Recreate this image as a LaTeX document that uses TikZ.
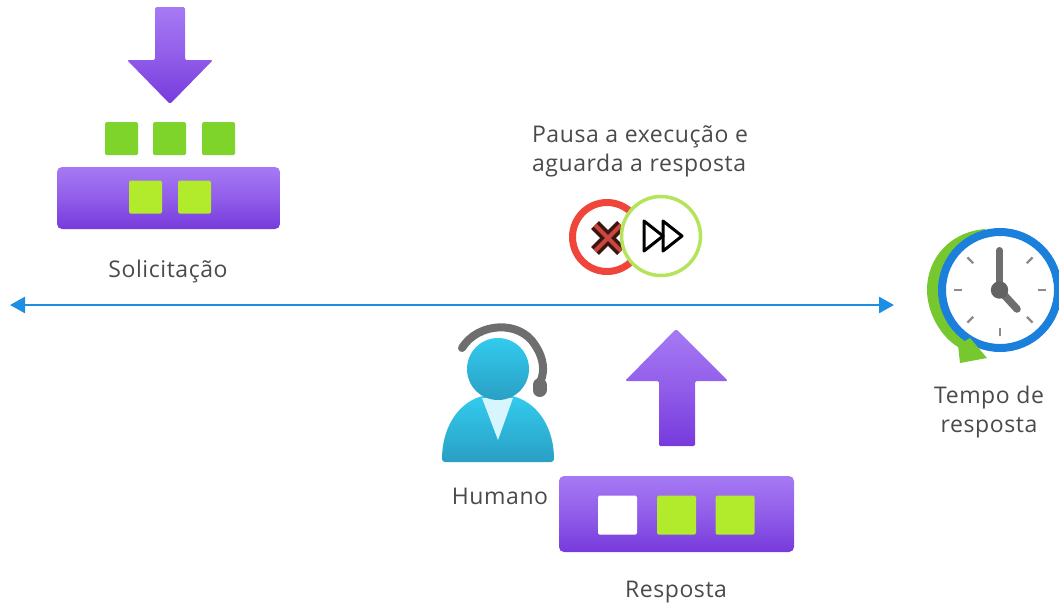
\documentclass[tikz,border=0pt]{standalone}
\usepackage{fontspec}
\setmainfont[LetterSpace=2.5]{Open Sans}
\usetikzlibrary{arrows.meta,calc}
\definecolor{purpleTop}{HTML}{A67AF4}
\definecolor{purpleBot}{HTML}{773ADC}
\definecolor{greenSq}{HTML}{7FD42C}
\definecolor{limeSq}{HTML}{B2EA2C}
\definecolor{lineBlue}{HTML}{1C8FE3}
\definecolor{ringBlue}{HTML}{1B7FDC}
\definecolor{txt}{HTML}{4A4A4A}
\definecolor{handGray}{HTML}{6E6E6E}
\definecolor{arcGreen}{HTML}{76C82E}
\definecolor{redRing}{HTML}{F0453A}
\definecolor{ffRing}{HTML}{B4E45A}
\definecolor{skyTop}{HTML}{32CBEE}
\definecolor{skyBot}{HTML}{2A9FC4}
\definecolor{xCore}{HTML}{C9473C}
\definecolor{xEdge}{HTML}{3A1512}
\tikzset{
  x=1pt,y=-1pt,
  label text/.style={font=\fontsize{23}{29}\selectfont,text=txt,inner sep=0pt,align=center},
  grad/.style={top color=purpleTop,bottom color=purpleBot,middle color=purpleTop!55!purpleBot,draw=none},
  sq/.style={rounded corners=1.5pt,draw=none,inner sep=0pt,outer sep=0pt},
  barbox/.style={grad,rounded corners=5pt},
  tick/.style={draw=handGray!80,line width=2.4pt},
}
\begin{document}
\begin{tikzpicture}
\useasboundingbox (0,0) rectangle (1059,606);
% request group
\shade[grad,rounded corners=1.5pt] (155,7) -- (185,7) -- (185,60) -- (213,60) -- (170,104) -- (127,60) -- (155,60) -- cycle;
\node[sq,fill=greenSq,minimum size=33pt] (g1) at (121.5,138.5) {};
\node[sq,fill=greenSq,minimum size=33pt] (g2) at (169.5,138.5) {};
\node[sq,fill=greenSq,minimum size=33pt] (g3) at (218.5,138.5) {};
\shade[barbox] (57,167) rectangle (280,229);
\node[sq,fill=limeSq,minimum size=33pt] (l1) at (145.5,197) {};
\node[sq,fill=limeSq,minimum size=33pt] (l2) at (194.5,197) {};
\node[label text] (solic) at (168,272) {Solicitação};
% timeline
\coordinate (tl) at (10,305);
\coordinate (tr) at (894,305);
\draw[lineBlue,line width=2.6pt,{Triangle[length=15pt,width=16pt]}-{Triangle[length=15pt,width=16pt]}] (tl) -- (tr);
% pause
\node[label text,align=left] (pausa) at (640,151) {Pausa a execução e\\aguarda a resposta};
\node[circle,draw=redRing,line width=7pt,fill=white,minimum size=69pt,inner sep=0pt] (stop) at (607,237) {};
\draw[xEdge,line width=11pt] (595,225) -- (621,251) (621,225) -- (595,251);
\draw[xCore,line width=4pt] (595,225) -- (621,251) (621,225) -- (595,251);
\node[circle,draw=ffRing,line width=3.5pt,fill=white,minimum size=79pt,inner sep=0pt] (play) at (661,236) {};
\draw[black,line width=3pt,line join=round] (644,221) -- (644,251) -- (663,236) -- cycle;
\draw[black,line width=3pt,line join=round] (663,221) -- (663,251) -- (682,236) -- cycle;
% clock
\fill[arcGreen] (985,229) .. controls (950,232) and (927,258) .. (927,290) .. controls (927,312) and (940,336) .. (958,347) -- (985,340) -- (985,300) -- cycle;
\node[circle,draw=ringBlue,line width=8pt,fill=white,minimum size=116pt,inner sep=0pt] (clock) at (1000,290) {};
\fill[arcGreen] (958,345) -- (960,363) -- (987,358) -- (970,338) -- cycle;
\foreach \a in {0,45,135,180,225,270,315}{
  \draw[tick] ($(clock.center)+(\a:38pt)$) -- ($(clock.center)+(\a:46pt)$);
}
\draw[handGray,line width=7pt,line cap=round] (999.5,290) -- (999.5,250.5);
\draw[handGray,line width=7.5pt,line cap=round] (999.5,290) -- (1017,309);
\fill[handGray!90!black] (999.5,290) circle (8.7pt);
\node[label text] (tempo) at (989,412) {Tempo de\\resposta};
% human
\draw[handGray,line width=8pt,line cap=round] (462,348) .. controls (478,322) and (520,320) .. (535,345) .. controls (545,360) and (544,372) .. (541,380);
\draw[handGray,line width=14pt,line cap=round] (539.5,385) -- (539.5,390);
\shade[top color=skyTop,bottom color=skyBot,draw=none,rounded corners=3pt] (442,462) .. controls (442,430) and (456,405) .. (482,396) -- (513,396) .. controls (540,405) and (554,430) .. (554,462) -- cycle;
\fill[white!80!skyTop] (482,398) -- (513,398) -- (498,440) -- cycle;
\shade[top color=skyTop,bottom color=skyBot] (498,369) circle (31pt);
\node[label text] (humano) at (500,496) {Humano};
% response
\shade[grad,rounded corners=1.5pt] (676,329) -- (728,381) -- (695,381) -- (695,446) -- (659,446) -- (659,381) -- (625,381) -- cycle;
\shade[barbox] (559,476) rectangle (794,552);
\node[sq,fill=white,minimum size=39pt] (w1) at (617.5,515) {};
\node[sq,fill=limeSq,minimum size=39pt] (w2) at (676.5,515) {};
\node[sq,fill=limeSq,minimum size=39pt] (w3) at (735,515) {};
\node[label text] (resp) at (676,592) {Resposta};
\end{tikzpicture}
\end{document}
